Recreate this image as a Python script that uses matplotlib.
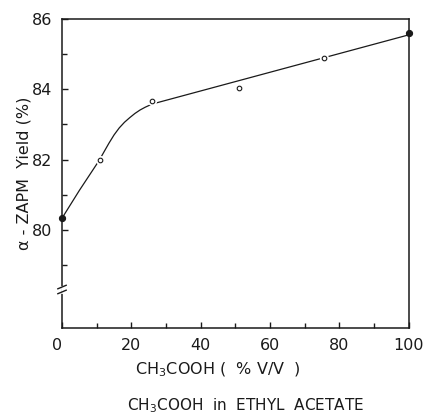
import matplotlib
matplotlib.use("Agg")
import matplotlib.pyplot as plt
from matplotlib.ticker import MultipleLocator, FixedLocator

# ── Données ───────────────────────────────────────────────────────────────────
acide_pct = [0, 11, 26, 51, 75.5, 100]
rendement = [80.33, 81.98, 83.66, 84.05, 84.9, 85.6]
pleins = [True, False, False, False, False, True]

# tracé de la courbe ajustée (relevé à la main sur l'image)
courbe_x = [0, 5, 10.75, 12, 13.5, 15, 16.5, 18, 19.5, 21, 22.5, 24, 26, 100]
courbe_y = [80.33, 81.12, 81.98, 82.2, 82.46, 82.7, 82.9, 83.06, 83.19,
            83.31, 83.41, 83.49, 83.58, 85.55]

x_ticks = [0, 20, 40, 60, 80, 100]
y_ticks = [80, 82, 84, 86]
y_minor = [79, 81, 83, 85]
y_cassure = 78.3

plt.rcParams["font.family"] = ["DejaVu Sans"]
ENCRE = "#1a1a1a"

fig = plt.figure(figsize=(4.23, 4.18), dpi=100)
ax = fig.add_axes([0.1466, 0.215, 0.82, 0.7395])

ax.plot(courbe_x, courbe_y, color=ENCRE, linewidth=0.9, zorder=2)

for x, y, plein in zip(acide_pct, rendement, pleins):
    if plein:
        ax.plot([x], [y], marker="o", markersize=4.4, markerfacecolor=ENCRE,
                markeredgecolor=ENCRE, markeredgewidth=0.8,
                linestyle="none", zorder=3, clip_on=False)
    else:
        # anneau blanc pour couper la ligne autour du point
        ax.plot([x], [y], marker="o", markersize=4.2, markerfacecolor="white",
                markeredgecolor="white", markeredgewidth=2.4,
                linestyle="none", zorder=3, clip_on=False)
        ax.plot([x], [y], marker="o", markersize=3.3, markerfacecolor="white",
                markeredgecolor=ENCRE, markeredgewidth=0.8,
                linestyle="none", zorder=4, clip_on=False)

ax.set_xlim(0, 100)
ax.set_ylim(77.2, 86)

ax.xaxis.set_major_locator(FixedLocator(x_ticks))
ax.xaxis.set_minor_locator(MultipleLocator(10))
ax.yaxis.set_major_locator(FixedLocator(y_ticks))
ax.yaxis.set_minor_locator(FixedLocator(y_minor))

ax.tick_params(axis="both", which="both", direction="in", width=1.0,
               labelsize=11.5, color=ENCRE, labelcolor=ENCRE)
ax.tick_params(axis="both", which="major", length=4)
ax.tick_params(axis="both", which="minor", length=3.5)
ax.tick_params(axis="y", pad=7)
ax.tick_params(axis="x", pad=7)

# le « 0 » est décalé vers la gauche sur l'original
for lbl in ax.get_xticklabels():
    if lbl.get_text() == "0":
        lbl.set_horizontalalignment("right")
        lbl.set_x(0.0)

for spine in ax.spines.values():
    spine.set_linewidth(1.1)
    spine.set_color(ENCRE)

# cassure de l'axe des ordonnées
for dy in (-0.07, 0.07):
    ax.plot([-1.2, 1.2], [y_cassure + dy - 0.05, y_cassure + dy + 0.05],
            color=ENCRE, linewidth=1.0, clip_on=False, zorder=5)
ax.plot([0, 0], [y_cassure - 0.06, y_cassure + 0.06], color="white",
        linewidth=2, clip_on=False, zorder=4)

ax.set_ylabel("α - ZAPM  Yield (%)", fontsize=11.5, labelpad=0, color=ENCRE)
fig.text(0.515, 0.115, "CH$_3$COOH (  % V/V  )", ha="center", va="center",
         fontsize=11.5, color=ENCRE)
fig.text(0.58, 0.03, "CH$_3$COOH  in  ETHYL  ACETATE", ha="center", va="center",
         fontsize=11, color=ENCRE)

fig.savefig("out.png", dpi=100)
